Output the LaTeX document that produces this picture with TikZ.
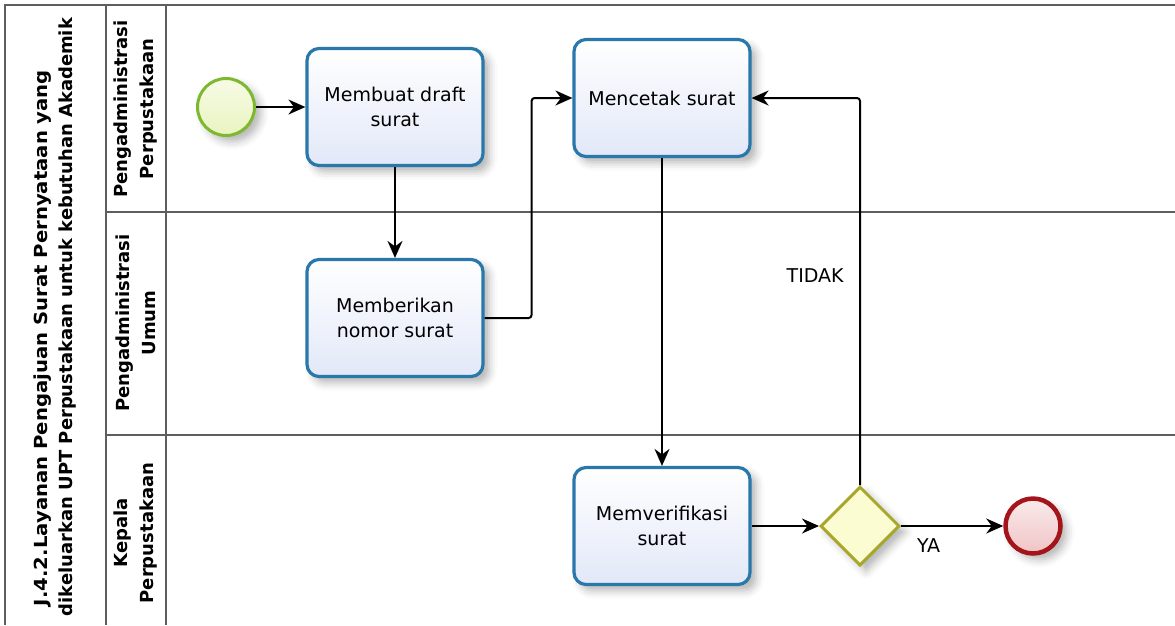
\documentclass[tikz,border=0pt]{standalone}
\usepackage{graphicx}
\usepackage{fontspec}
\setmainfont{DejaVu Sans}
\usetikzlibrary{arrows.meta,shapes.geometric,shadows.blur}
\definecolor{poolline}{HTML}{5E5E5E}
\definecolor{taskline}{HTML}{2A78AA}
\definecolor{taskfill}{HTML}{E2E8F8}
\definecolor{startline}{HTML}{7DB82E}
\definecolor{startfill}{HTML}{EAF4C0}
\definecolor{endline}{HTML}{A3151A}
\definecolor{endfill}{HTML}{F0C4C6}
\definecolor{gwline}{HTML}{A9A72B}
\definecolor{gwfill}{HTML}{FCFCD2}
\begin{document}
\begin{tikzpicture}[x=1pt,y=-1pt,
  softshadow/.style={blur shadow={shadow xshift=6pt,shadow yshift=-6pt,shadow blur radius=8pt,shadow opacity=30}},
  task/.style={rectangle,rounded corners=12pt,draw=taskline,line width=3.2pt,
    top color=white,bottom color=taskfill,minimum width=176pt,minimum height=117pt,
    align=center,inner sep=2pt,font=\fontsize{19}{25}\selectfont,softshadow},
  startev/.style={circle,draw=startline,line width=3pt,top color=white!60!startfill,bottom color=startfill,
    minimum size=57pt,inner sep=0pt,softshadow},
  endev/.style={circle,draw=endline,line width=4.5pt,top color=endfill!35,bottom color=endfill,
    minimum size=55pt,inner sep=0pt,softshadow},
  gateway/.style={diamond,aspect=1,draw=gwline,line width=3pt,fill=gwfill,
    minimum size=79pt,inner sep=0pt,softshadow},
  flow/.style={line width=2pt,-{Stealth[length=17pt,width=15pt]}},
  elbow/.style={flow,rounded corners=3pt},
  frame/.style={draw=poolline,line width=1.6pt},
  lanetext/.style={rotate=90,align=center,font=\bfseries\fontsize{18}{26}\selectfont},
  titletext/.style={rotate=90,font=\bfseries\fontsize{18}{25}\selectfont},
  flowlabel/.style={font=\fontsize{19}{22}\selectfont}]
\useasboundingbox (0,0) rectangle (1175,625);

% pool and lane frame
\draw[frame] (5,625) -- (5,5) -- (1175,5);
\draw[frame] (106,5) -- (106,625);
\draw[frame] (166,5) -- (166,625);
\draw[frame] (106,212) -- (1175,212);
\draw[frame] (106,435) -- (1175,435);

% pool title, two lines
\node[titletext] (titleA) at (43,338)
  {\resizebox{536pt}{\height}{J.4.2.Layanan Pengajuan Surat Pernyataan yang}};
\node[titletext] (titleB) at (68,317)
  {\resizebox{598pt}{\height}{dikeluarkan UPT Perpustakaan untuk kebutuhan Akademik}};

% lane headers
\node[lanetext] (lane1) at (136,109) {Pengadministrasi\\Perpustakaan};
\node[lanetext] (lane2) at (136,323) {Pengadministrasi\\Umum};
\node[lanetext] (lane3) at (136,533) {Kepala\\Perpustakaan};

% events, tasks and gateway
\node[startev] (start) at (226,107) {};
\node[task] (draft) at (395,107) {Membuat draft\\surat};
\node[task] (nomor) at (395,318) {Memberikan\\nomor surat};
\node[task] (cetak) at (662,98) {Mencetak surat};
\node[task] (verif) at (662,526) {Memverifikasi\\surat};
\node[gateway] (gw) at (860,526) {};
\node[endev] (finish) at (1033,526) {};

% sequence flows
\draw[flow] (start) -- (draft);
\draw[flow] (draft) -- (nomor);
\draw[elbow] (nomor.east) -- ++(47,0) |- (cetak.west);
\draw[flow] (cetak) -- (verif);
\draw[flow] (verif) -- (gw);
\draw[elbow] (gw.north) |- (cetak.east)
  node[flowlabel,pos=0.27,left=12pt] (tidak) {TIDAK};
\draw[flow] (gw) -- (finish)
  node[flowlabel,pos=0.27,below=8pt] (ya) {YA};
\end{tikzpicture}
\end{document}
